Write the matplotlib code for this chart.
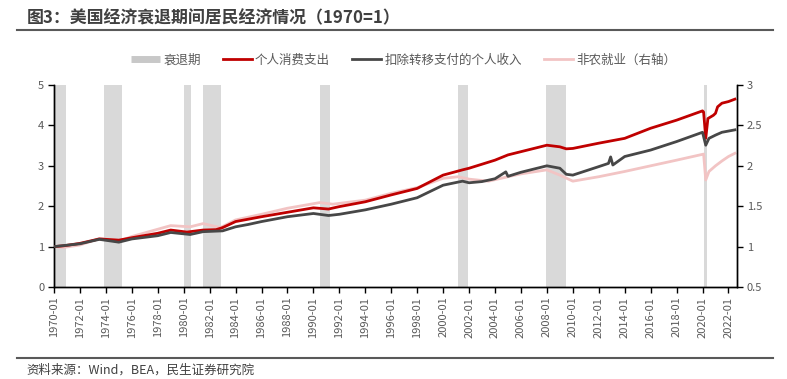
import numpy as np
import pandas as pd
import matplotlib
matplotlib.use("Agg")
import matplotlib.pyplot as plt
import matplotlib.dates as mdates
from matplotlib.lines import Line2D
from matplotlib.ticker import FormatStrFormatter

plt.rcParams['font.family'] = ['Noto Sans CJK SC', 'DejaVu Sans']

# 个人消费支出 (左轴, 1970=1)
pce_dates = ["1970-01", "1970-10", "1972-01", "1973-07", "1975-01", "1976-01", "1978-01",
             "1979-01", "1980-04", "1981-07", "1982-07", "1983-01", "1984-01", "1985-01",
             "1986-01", "1988-01", "1990-01", "1991-03", "1992-01", "1994-01", "1996-01",
             "1998-01", "2000-01", "2001-07", "2002-01", "2003-01", "2004-01", "2005-01",
             "2006-01", "2008-01", "2009-01", "2009-07", "2010-01", "2012-01", "2014-01",
             "2016-01", "2018-01", "2020-01", "2020-02", "2020-04", "2020-06", "2020-11",
             "2021-01", "2021-03", "2021-07", "2022-01", "2022-07"]
pce_vals = [1.00, 1.02, 1.08, 1.19, 1.16, 1.22, 1.33,
            1.41, 1.36, 1.41, 1.42, 1.47, 1.62, 1.68,
            1.74, 1.85, 1.96, 1.93, 1.99, 2.11, 2.28,
            2.44, 2.77, 2.90, 2.94, 3.04, 3.14, 3.27,
            3.35, 3.51, 3.47, 3.42, 3.43, 3.56, 3.68,
            3.93, 4.13, 4.36, 4.33, 3.68, 4.17, 4.25,
            4.30, 4.46, 4.55, 4.59, 4.65]

# 扣除转移支付的个人收入 (左轴)
inc_dates = ["1970-01", "1972-01", "1973-07", "1975-01", "1976-01", "1978-01", "1979-01",
             "1980-07", "1981-07", "1983-01", "1984-01", "1985-01", "1986-01", "1988-01",
             "1990-01", "1991-03", "1992-01", "1994-01", "1996-01", "1998-01", "2000-01",
             "2001-07", "2002-01", "2003-01", "2004-01", "2004-11", "2005-01", "2006-01",
             "2008-01", "2009-01", "2009-07", "2010-01", "2012-01", "2012-10", "2012-12",
             "2013-02", "2014-01", "2016-01", "2018-01", "2020-01", "2020-04", "2020-07",
             "2021-01", "2021-07", "2022-01", "2022-07"]
inc_vals = [1.00, 1.07, 1.18, 1.11, 1.19, 1.27, 1.35,
            1.30, 1.37, 1.39, 1.49, 1.55, 1.62, 1.74,
            1.82, 1.77, 1.80, 1.91, 2.05, 2.21, 2.52,
            2.62, 2.58, 2.61, 2.68, 2.85, 2.74, 2.84,
            3.00, 2.94, 2.79, 2.77, 2.98, 3.06, 3.22,
            3.02, 3.23, 3.39, 3.60, 3.83, 3.51, 3.68,
            3.76, 3.83, 3.86, 3.89]

# 非农就业 (右轴)
emp_dates = ["1970-01", "1970-10", "1972-01", "1973-07", "1975-03", "1976-01", "1978-01",
             "1979-01", "1980-07", "1981-07", "1982-11", "1984-01", "1986-01", "1988-01",
             "1990-07", "1991-07", "1994-01", "1996-01", "1998-01", "2000-01", "2001-03",
             "2002-01", "2003-07", "2005-01", "2006-01", "2008-01", "2009-01", "2010-01",
             "2012-01", "2014-01", "2016-01", "2018-01", "2020-02", "2020-04", "2020-07",
             "2021-01", "2021-07", "2022-01", "2022-07"]
emp_vals = [1.00, 0.99, 1.02, 1.10, 1.075, 1.125, 1.215,
            1.26, 1.245, 1.285, 1.235, 1.33, 1.40, 1.475,
            1.545, 1.525, 1.575, 1.66, 1.73, 1.845, 1.865,
            1.835, 1.81, 1.865, 1.90, 1.95, 1.885, 1.81,
            1.865, 1.93, 2.00, 2.07, 2.145, 1.825, 1.93,
            2.00, 2.06, 2.115, 2.155]

recessions = [("1970-01-01", "1970-11-30"), ("1973-11-01", "1975-03-31"),
              ("1980-01-01", "1980-07-31"), ("1981-07-01", "1982-11-30"),
              ("1990-07-01", "1991-03-31"), ("2001-03-01", "2001-11-30"),
              ("2007-12-01", "2009-06-30"), ("2020-02-01", "2020-04-30")]

red = '#C00000'
dark = '#474747'
pink = '#F2C4C4'
band = '#D9D9D9'
txt = '#595959'

fig = plt.figure(figsize=(7.87, 3.79), dpi=100)
ax = fig.add_axes([0.0686, 0.2427, 0.868, 0.533])
ax2 = ax.twinx()
# 右轴放在下面: 阴影和非农在下, 红线灰线压在上面
ax.set_zorder(ax2.get_zorder() + 1)
ax.patch.set_visible(False)

for s, e in recessions:
    ax2.axvspan(pd.Timestamp(s), pd.Timestamp(e), color=band, lw=0, zorder=0)

ax2.plot(pd.to_datetime(emp_dates), emp_vals, color=pink, lw=2, zorder=2)
ax.plot(pd.to_datetime(pce_dates), pce_vals, color=red, lw=2, zorder=3)
ax.plot(pd.to_datetime(inc_dates), inc_vals, color=dark, lw=2, zorder=3)

ax.set_xlim(pd.Timestamp("1970-01-01"), pd.Timestamp("2022-09-01"))
ax.set_ylim(0, 5)
ax2.set_ylim(0.5, 3)
ax.set_yticks(range(0, 6))
ax2.set_yticks([0.5, 1, 1.5, 2, 2.5, 3])
ax2.yaxis.set_major_formatter(FormatStrFormatter('%g'))

ax.xaxis.set_major_locator(mdates.YearLocator(2, month=1, day=1))
ax.xaxis.set_major_formatter(mdates.DateFormatter('%Y-%m'))
for lab in ax.get_xticklabels():
    lab.set_rotation(90)

for a in (ax, ax2):
    a.spines['top'].set_visible(False)
    a.tick_params(direction='out', length=4, width=1, color='black',
                  labelcolor=txt, labelsize=8, pad=3)
    for sp in ('left', 'right', 'bottom'):
        a.spines[sp].set_color('black')
        a.spines[sp].set_linewidth(1)

handles = [Line2D([], [], color='#C8C8C8', lw=5, solid_capstyle='butt'),
           Line2D([], [], color=red, lw=2),
           Line2D([], [], color=dark, lw=2),
           Line2D([], [], color=pink, lw=2)]
labels = ['衰退期', '个人消费支出', '扣除转移支付的个人收入', '非农就业（右轴）']
fig.legend(handles, labels, loc='center', bbox_to_anchor=(0.513, 0.842), ncol=4,
           frameon=False, fontsize=9, handlelength=2.3, handletextpad=0.25,
           columnspacing=1.8, labelcolor=txt)

fig.text(0.034, 1 - 18 / 379, '图3：美国经济衰退期间居民经济情况（1970=1）',
         fontsize=12.2, fontweight='bold', color='#404040', va='center')
fig.add_artist(Line2D([0.0216, 0.982], [0.921, 0.921], color='#595959', lw=1.5))
fig.add_artist(Line2D([0.0216, 0.982], [0.0554, 0.0554], color='#595959', lw=1.5))
fig.text(0.034, 0.024, '资料来源：Wind，BEA，民生证券研究院', fontsize=9,
         color='#404040', va='center')

fig.savefig('out.png', dpi=100)
